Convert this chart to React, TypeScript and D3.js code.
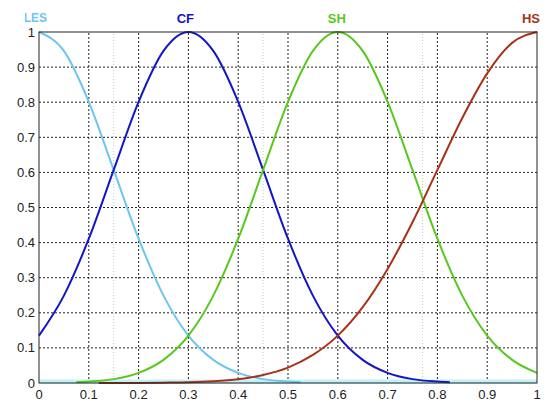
import React from 'react';
import * as d3 from 'd3';

// membership values
const xTicks = [0, 0.1, 0.2, 0.3, 0.4, 0.5, 0.6, 0.7, 0.8, 0.9, 1];
const yTicks = [0, 0.1, 0.2, 0.3, 0.4, 0.5, 0.6, 0.7, 0.8, 0.9, 1];
const crossovers = [0.15, 0.45, 0.77];

const lesX = [0, 0.05, 0.1, 0.15, 0.2, 0.25, 0.3, 0.35, 0.4, 0.45, 0.5, 0.525];
const lesY = [1, 0.946, 0.801, 0.607, 0.411, 0.249, 0.135, 0.066, 0.029, 0.011, 0.004, 0.002];

const cfX = [0, 0.05, 0.1, 0.15, 0.2, 0.25, 0.3, 0.35, 0.4, 0.45, 0.5, 0.55, 0.6, 0.65, 0.7, 0.75, 0.8, 0.825];
const cfY = [0.135, 0.249, 0.411, 0.607, 0.801, 0.946, 1, 0.946, 0.801, 0.607, 0.411, 0.249, 0.135, 0.066, 0.029, 0.011, 0.004, 0.002];

const shX = [0.075, 0.1, 0.15, 0.2, 0.25, 0.3, 0.35, 0.4, 0.45, 0.5, 0.55, 0.6, 0.65, 0.7, 0.75, 0.8, 0.85, 0.9, 0.95, 1];
const shY = [0.002, 0.004, 0.011, 0.029, 0.066, 0.135, 0.249, 0.411, 0.607, 0.801, 0.946, 1, 0.946, 0.801, 0.607, 0.411, 0.249, 0.135, 0.066, 0.029];

const hsX = [0.12, 0.2, 0.25, 0.3, 0.35, 0.4, 0.45, 0.5, 0.55, 0.6, 0.65, 0.7, 0.75, 0.8, 0.85, 0.9, 0.95, 1];
const hsY = [0, 0.0003, 0.001, 0.002, 0.005, 0.011, 0.023, 0.044, 0.08, 0.135, 0.216, 0.325, 0.458, 0.607, 0.755, 0.882, 0.969, 1];

const names = ['LES', 'CF', 'SH', 'HS'];
const colors = ['#6cc6ee', '#1414c8', '#58c81e', '#a83218'];
const seriesX = [lesX, cfX, shX, hsX];
const seriesY = [lesY, cfY, shY, hsY];

const width = 550;
const height = 411;
const margin = { top: 32, right: 13, bottom: 28, left: 39 };

export default function App() {
  const x = d3.scaleLinear().domain([0, 1]).range([margin.left, width - margin.right]);
  const y = d3.scaleLinear().domain([0, 1]).range([height - margin.bottom, margin.top]);

  const line = d3.line<[number, number]>()
    .x(d => x(d[0]))
    .y(d => y(d[1]))
    .curve(d3.curveMonotoneX);

  const font = '"Liberation Sans", Arial, sans-serif';

  return (
    <svg width={width} height={height} style={{ position: 'absolute', left: 0, top: 0, background: '#fff' }}>
      <defs>
        <clipPath id="lesClip">
          <rect x={25} y={0} width={width} height={margin.top} />
        </clipPath>
      </defs>

      {/* faint crossover markers */}
      {crossovers.map(c => (
        <line key={c} x1={x(c)} x2={x(c)} y1={y(0)} y2={y(1)}
          stroke="#c8c8c8" strokeWidth={1} strokeDasharray="1,2" />
      ))}

      {/* grid */}
      {xTicks.slice(1, -1).map(t => (
        <line key={'gx' + t} x1={x(t)} x2={x(t)} y1={y(0)} y2={y(1)}
          stroke="#222" strokeWidth={1} strokeDasharray="2,2" />
      ))}
      {yTicks.slice(1, -1).map(t => (
        <line key={'gy' + t} x1={x(0)} x2={x(1)} y1={y(t)} y2={y(t)}
          stroke="#222" strokeWidth={1} strokeDasharray="2,2" />
      ))}

      {/* light band along the zero line */}
      <line x1={x(0)} x2={x(1)} y1={y(0) - 1.5} y2={y(0) - 1.5} stroke="#bff2fa" strokeWidth={4} />

      {/* curves */}
      {names.map((n, i) => (
        <path key={n}
          d={line(seriesX[i].map((v, j) => [v, seriesY[i][j]] as [number, number])) || ''}
          fill="none" stroke={colors[i]} strokeWidth={2} />
      ))}

      {/* frame */}
      <rect x={x(0)} y={y(1)} width={x(1) - x(0)} height={y(0) - y(1)}
        fill="none" stroke="#222" strokeWidth={1} />

      {/* tick labels */}
      {xTicks.map(t => (
        <text key={'tx' + t} x={x(t)} y={y(0) + 16} textAnchor="middle"
          fontFamily={font} fontSize={13} fill="#222">{d3.format('~g')(t)}</text>
      ))}
      {yTicks.map(t => (
        <text key={'ty' + t} x={x(0) - 4} y={y(t)} textAnchor="end" dominantBaseline="central"
          fontFamily={font} fontSize={13} fill="#222">{d3.format('~g')(t)}</text>
      ))}

      {/* curve names */}
      <text x={47} y={22} textAnchor="end" clipPath="url(#lesClip)"
        fontFamily={font} fontSize={12} fontWeight="bold" fill={colors[0]}>{names[0]}</text>
      <text x={x(0.3) - 3} y={23} textAnchor="middle"
        fontFamily={font} fontSize={13} fontWeight="bold" fill={colors[1]}>{names[1]}</text>
      <text x={x(0.6) - 1} y={23} textAnchor="middle"
        fontFamily={font} fontSize={13} fontWeight="bold" fill={colors[2]}>{names[2]}</text>
      <text x={x(1) + 3} y={23} textAnchor="end"
        fontFamily={font} fontSize={13} fontWeight="bold" fill={colors[3]}>{names[3]}</text>
    </svg>
  );
}
